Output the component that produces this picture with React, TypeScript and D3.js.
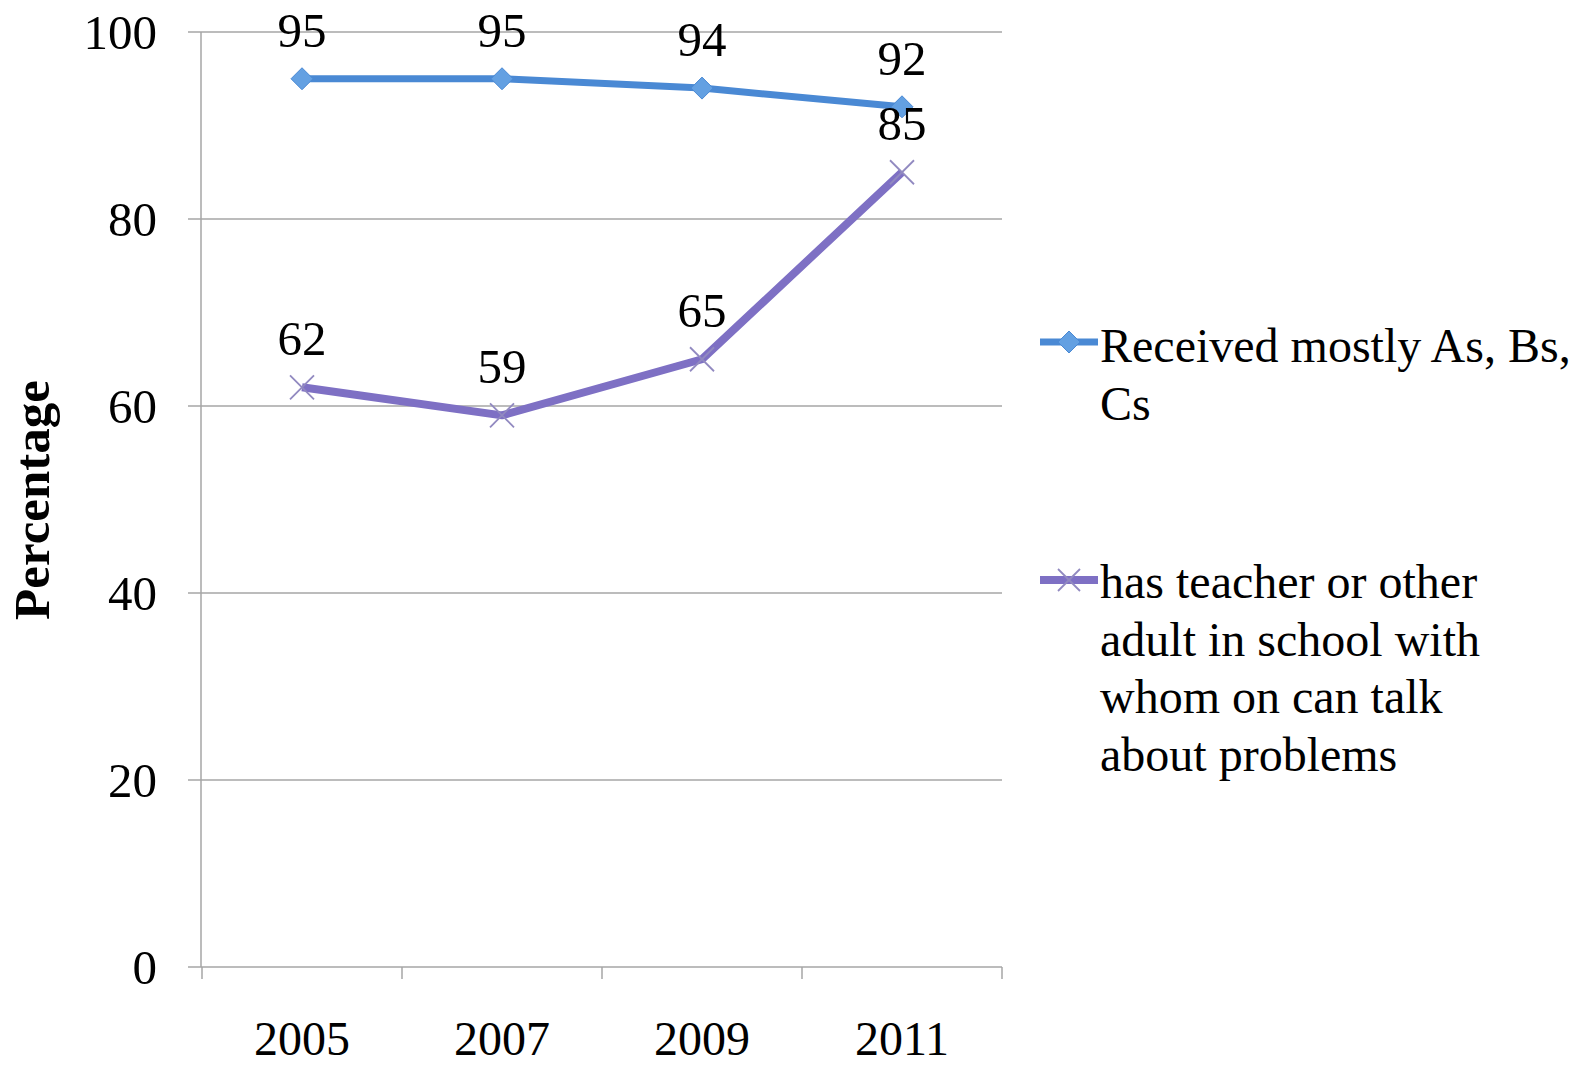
import React from "react";
import * as d3 from "d3";

const years = ["2005", "2007", "2009", "2011"];
const gradesValues = [95, 95, 94, 92];
const teacherValues = [62, 59, 65, 85];
const yTicks = [0, 20, 40, 60, 80, 100];
const seriesNames = ["Received mostly As, Bs, Cs", "has teacher or other adult in school with whom on can talk about problems"];
const legendLines1 = ["Received mostly As, Bs,", "Cs"];
const legendLines2 = ["has teacher or other", "adult in school with", "whom on can talk", "about problems"];

const W = 1583;
const H = 1067;
const FONT = "'Liberation Serif', 'Times New Roman', serif";
const BLUE = "#4a89d4";
const PURPLE = "#7e70c4";
const GRID = "#a6a6a6";

export default function App() {
  const x = d3.scaleBand<string>().domain(years).range([202, 1002]);
  const y = d3.scaleLinear().domain([0, 100]).range([967, 32]);
  const cx = (d: string) => (x(d) as number) + x.bandwidth() / 2;

  const line = d3.line<[string, number]>().x((d) => cx(d[0])).y((d) => y(d[1]));
  const gradesPts: [string, number][] = years.map((yr, i) => [yr, gradesValues[i]]);
  const teacherPts: [string, number][] = years.map((yr, i) => [yr, teacherValues[i]]);

  const diamond = (px: number, py: number, r: number) =>
    `M${px},${py - r}L${px + r},${py}L${px},${py + r}L${px - r},${py}Z`;

  const xMark = (px: number, py: number, r: number, key: string) => (
    <g key={key} stroke="#9189c0" strokeWidth={1.8}>
      <line x1={px - r} y1={py - r} x2={px + r} y2={py + r} />
      <line x1={px - r} y1={py + r} x2={px + r} y2={py - r} />
    </g>
  );

  const xTickPositions = [...years.map((d) => x(d) as number), 1002];

  return (
    <svg
      width={W}
      height={H}
      style={{ position: "absolute", left: 0, top: 0, background: "#fff" }}
      fontFamily={FONT}
    >
      {/* gridlines & y ticks */}
      {yTicks.map((t) => (
        <g key={t}>
          <line x1={188} x2={1002} y1={y(t)} y2={y(t)} stroke={GRID} strokeWidth={1.5} />
          <text x={157} y={y(t) + 17} textAnchor="end" fontSize={49} fill="#000">
            {t}
          </text>
        </g>
      ))}
      {/* y axis */}
      <line x1={201} x2={201} y1={y(100)} y2={y(0)} stroke={GRID} strokeWidth={1.5} />
      {/* x ticks */}
      {xTickPositions.map((p, i) => (
        <line key={i} x1={p} x2={p} y1={y(0)} y2={y(0) + 12} stroke={GRID} strokeWidth={1.5} />
      ))}
      {years.map((yr) => (
        <text key={yr} x={cx(yr)} y={1055} textAnchor="middle" fontSize={48} fill="#000">
          {yr}
        </text>
      ))}
      {/* y title */}
      <text
        transform={`translate(49,500) rotate(-90)`}
        textAnchor="middle"
        fontSize={51}
        fontWeight="bold"
        fill="#000"
      >
        Percentage
      </text>

      {/* series 1 */}
      <path d={line(gradesPts) as string} fill="none" stroke={BLUE} strokeWidth={7} strokeLinejoin="round" />
      {gradesPts.map((p, i) => (
        <path key={i} d={diamond(cx(p[0]), y(p[1]), 11)} fill="#63a0e2" stroke="#4a89d4" strokeWidth={1} />
      ))}
      {/* series 2 */}
      <path d={line(teacherPts) as string} fill="none" stroke={PURPLE} strokeWidth={8} strokeLinejoin="round" />
      {teacherPts.map((p, i) => xMark(cx(p[0]), y(p[1]), 12, "t" + i))}

      {/* data labels */}
      {gradesPts.map((p, i) => (
        <text key={"gl" + i} x={cx(p[0])} y={y(p[1]) - 32} textAnchor="middle" fontSize={49} fill="#000">
          {p[1]}
        </text>
      ))}
      {teacherPts.map((p, i) => (
        <text key={"tl" + i} x={cx(p[0])} y={y(p[1]) - 32} textAnchor="middle" fontSize={49} fill="#000">
          {p[1]}
        </text>
      ))}

      {/* legend */}
      <g aria-label={seriesNames[0]}>
        <line x1={1040} x2={1098} y1={342} y2={342} stroke={BLUE} strokeWidth={7} />
        <path d={diamond(1069, 342, 11)} fill="#63a0e2" stroke="#4a89d4" strokeWidth={1} />
        {legendLines1.map((l, i) => (
          <text key={i} x={1100} y={362 + i * 58} fontSize={48} fill="#000">
            {l}
          </text>
        ))}
      </g>
      <g aria-label={seriesNames[1]}>
        <line x1={1040} x2={1098} y1={580} y2={580} stroke={PURPLE} strokeWidth={8} />
        {xMark(1069, 580, 11, "lg")}
        {legendLines2.map((l, i) => (
          <text key={i} x={1100} y={598 + i * 57.5} fontSize={48} fill="#000">
            {l}
          </text>
        ))}
      </g>
    </svg>
  );
}
